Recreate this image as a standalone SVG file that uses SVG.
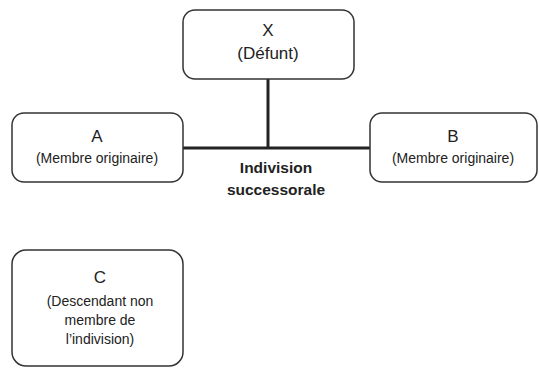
<svg xmlns="http://www.w3.org/2000/svg" width="539" height="368" viewBox="0 0 539 368">
<style>
.box{fill:#fff;stroke:#333;stroke-width:1.5}
.t{font-family:"Liberation Sans",Arial,sans-serif;fill:#222;text-anchor:middle}
.big{font-size:17px}
.sm{font-size:14px}
.b{font-size:15.5px;font-weight:bold}
.ln{stroke:#222;stroke-width:3;fill:none}
</style>
<rect width="539" height="368" fill="#fff"/>
<g id="connectors">
<line class="ln" x1="268" y1="79" x2="268" y2="148"/>
<line class="ln" x1="183" y1="148" x2="370" y2="148"/>
</g>
<g id="nodeX">
<rect class="box" x="183" y="10" width="171" height="69" rx="12"/>
<text class="t big" x="268" y="36">X</text>
<text class="t big" x="268" y="59">(Défunt)</text>
</g>
<g id="nodeA">
<rect class="box" x="12" y="113" width="171" height="69" rx="12"/>
<text class="t big" x="97" y="142">A</text>
<text class="t sm" x="97" y="163">(Membre originaire)</text>
</g>
<g id="nodeB">
<rect class="box" x="370" y="113" width="167" height="69" rx="12"/>
<text class="t big" x="453" y="142">B</text>
<text class="t sm" x="453" y="163">(Membre originaire)</text>
</g>
<g id="label">
<text class="t b" x="276" y="173">Indivision</text>
<text class="t b" x="276" y="195">successorale</text>
</g>
<g id="nodeC">
<rect class="box" x="12" y="250" width="171" height="116" rx="14"/>
<text class="t big" x="100" y="283">C</text>
<text class="t sm" x="100" y="306">(Descendant non</text>
<text class="t sm" x="100" y="325">membre de</text>
<text class="t sm" x="100" y="344">l’indivision)</text>
</g>
</svg>
